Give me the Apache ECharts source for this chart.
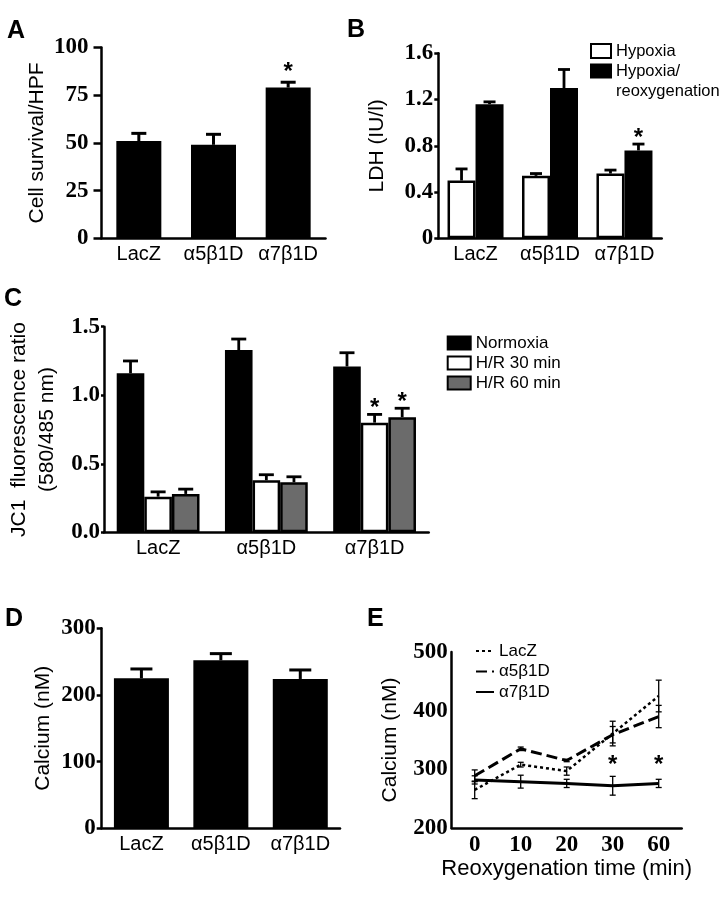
<!DOCTYPE html>
<html><head><meta charset="utf-8">
<script src="https://cdn.jsdelivr.net/npm/echarts/dist/echarts.min.js"></script>
<style>html,body{margin:0;padding:0;background:#fff;}#c{width:727px;height:910px;}</style>
</head><body><div id="c"></div>
<script>
// ---------- data ----------
const cats = ['LacZ', 'α5β1D', 'α7β1D'];
// A: cell survival
const yTicksA = [0, 25, 50, 75, 100];
const survival = [51, 49, 79];
const survivalErr = [4, 5.5, 2.8];
const survivalSig = [0, 0, 1];
// B: LDH
const yTicksB = [0, 0.4, 0.8, 1.2, 1.6];
const ldhHypoxia = [0.50, 0.54, 0.56];
const ldhHypoxiaErr = [0.10, 0.02, 0.03];
const ldhReox = [1.16, 1.30, 0.76];
const ldhReoxErr = [0.02, 0.16, 0.055];
const ldhReoxSig = [0, 0, 1];
// C: JC1 ratio
const yTicksC = [0, 0.5, 1.0, 1.5];
const jcNormoxia = [1.16, 1.33, 1.21];
const jcNormoxiaErr = [0.09, 0.08, 0.10];
const jcHR30 = [0.26, 0.38, 0.80];
const jcHR30Err = [0.035, 0.04, 0.06];
const jcHR30Sig = [0, 0, 1];
const jcHR60 = [0.28, 0.365, 0.84];
const jcHR60Err = [0.035, 0.04, 0.065];
const jcHR60Sig = [0, 0, 1];
// D: calcium
const yTicksD = [0, 100, 200, 300];
const calciumD = [225, 252, 224];
const calciumDErr = [14, 10, 13.5];
// E: calcium over time
const yTicksE = [200, 300, 400, 500];
const timesE = ['0', '10', '20', '30', '60'];
const caLacZ = [265, 308, 297, 361, 425];
const caLacZErr = [15, 4, 7, 21, 27];
const caA5 = [289, 335, 315, 359, 390];
const caA5Err = [10, 3, 2, 14, 19];
const caA7 = [282, 279, 276, 272, 276];
const caA7Err = [7, 11, 7, 16, 7];
const sigE = [0, 0, 0, 1, 1];
const starLevelE = 307;

// ---------- styling helpers ----------
const SANS = '"Liberation Sans", Arial, sans-serif';
const SERIF = '"Liberation Serif", "Times New Roman", serif';

function xCat(grid, data, extra) {
  return Object.assign({
    gridIndex: grid, type: 'category', data: data,
    axisLine: {lineStyle: {color: '#000', width: 2.5}},
    axisTick: {show: false},
    axisLabel: {color: '#000', fontFamily: SANS, fontSize: 20, margin: 6, interval: 0},
    splitLine: {show: false}
  }, extra || {});
}
function yVal(grid, ticks, name, nameGap, tickLen, margin, fmt, extra) {
  return Object.assign({
    gridIndex: grid, type: 'value',
    min: ticks[0], max: ticks[ticks.length - 1], interval: ticks[1] - ticks[0],
    axisLine: {show: true, lineStyle: {color: '#000', width: 2.5}},
    axisTick: {show: tickLen > 0, length: tickLen, lineStyle: {color: '#000', width: 2.5}},
    axisLabel: {color: '#000', fontFamily: SERIF, fontWeight: 'bold', fontSize: 23, margin: margin, formatter: fmt},
    splitLine: {show: false},
    name: name, nameLocation: 'middle', nameGap: nameGap,
    nameTextStyle: {color: '#000', fontFamily: SANS, fontSize: 21}
  }, extra || {});
}

function errSeries(grid, means, errs, sig, k, n, barW, capW, lw, starDy) {
  return {
    type: 'custom', xAxisIndex: grid, yAxisIndex: grid, z: 5, silent: true, clip: false,
    data: means.map((m, i) => [i, m, errs[i], sig ? sig[i] : 0]),
    renderItem: function (params, api) {
      const c = api.value(0), m = api.value(1), e = api.value(2), s = api.value(3);
      const base = api.coord([c, m]);
      const top = api.coord([c, m + e]);
      const x = base[0] + (k - (n - 1) / 2) * barW;
      const st = {stroke: '#000', lineWidth: lw};
      const ch = [
        {type: 'line', shape: {x1: x, y1: base[1], x2: x, y2: top[1]}, style: st},
        {type: 'line', shape: {x1: x - capW / 2, y1: top[1], x2: x + capW / 2, y2: top[1]}, style: st}
      ];
      if (s) ch.push({type: 'text', style: {text: '*', x: x, y: top[1] - starDy, align: 'center', verticalAlign: 'middle', font: 'bold 24px ' + SANS, fill: '#000'}});
      return {type: 'group', children: ch};
    }
  };
}
function errSeriesE(grid, means, errs, capW) {
  return {
    type: 'custom', xAxisIndex: grid, yAxisIndex: grid, z: 5, silent: true, clip: false,
    data: means.map((m, i) => [i, m, errs[i]]),
    renderItem: function (params, api) {
      const c = api.value(0), m = api.value(1), e = api.value(2);
      const lo = api.coord([c, m - e]), hi = api.coord([c, m + e]);
      const x = lo[0];
      const st = {stroke: '#000', lineWidth: 1.3};
      return {type: 'group', children: [
        {type: 'line', shape: {x1: x, y1: lo[1], x2: x, y2: hi[1]}, style: st},
        {type: 'line', shape: {x1: x - capW / 2, y1: lo[1], x2: x + capW / 2, y2: lo[1]}, style: st},
        {type: 'line', shape: {x1: x - capW / 2, y1: hi[1], x2: x + capW / 2, y2: hi[1]}, style: st}
      ]};
    }
  };
}
function starSeriesE(grid, sig, level) {
  return {
    type: 'custom', xAxisIndex: grid, yAxisIndex: grid, z: 6, silent: true, clip: false,
    data: sig.map((s, i) => [i, level, s]),
    renderItem: function (params, api) {
      if (!api.value(2)) return null;
      const p = api.coord([api.value(0), api.value(1)]);
      return {type: 'text', style: {text: '*', x: p[0], y: p[1], align: 'center', verticalAlign: 'middle', font: 'bold 24px ' + SANS, fill: '#000'}};
    }
  };
}

const f1 = v => v.toFixed(1);
const fB = v => v === 0 ? '0' : v.toFixed(1);

const chart = echarts.init(document.getElementById('c'), null, {renderer: 'canvas'});
const letter = (t, x, y) => ({type: 'text', x: x, y: y, style: {text: t, font: 'bold 25px ' + SANS, fill: '#000', verticalAlign: 'middle'}});

chart.setOption({
  animation: false,
  backgroundColor: '#fff',
  grid: [
    {left: 101.5, top: 47.5, width: 224, height: 190.8, outerBoundsMode: 'none', containLabel: false},
    {left: 438.3, top: 53.3, width: 223.4, height: 185, outerBoundsMode: 'none', containLabel: false},
    {left: 104, top: 326.7, width: 324.7, height: 205.6, outerBoundsMode: 'none', containLabel: false},
    {left: 101.7, top: 628.3, width: 238.3, height: 200, outerBoundsMode: 'none', containLabel: false},
    {left: 451.7, top: 652, width: 230, height: 176, outerBoundsMode: 'none', containLabel: false}
  ],
  xAxis: [
    xCat(0, cats), xCat(1, cats), xCat(2, cats), xCat(3, cats),
    xCat(4, timesE, {
      axisLabel: {color: '#000', fontFamily: SERIF, fontWeight: 'bold', fontSize: 23, margin: 6, interval: 0},
      name: 'Reoxygenation time (min)', nameLocation: 'middle', nameGap: 28,
      nameTextStyle: {color: '#000', fontFamily: SANS, fontSize: 22}
    })
  ],
  yAxis: [
    yVal(0, yTicksA, 'Cell survival/HPF', 54, 8, 13),
    yVal(1, yTicksB, 'LDH (IU/l)', 51, 4, 5, fB),
    yVal(2, yTicksC, 'JC1  fluorescence ratio\n(580/485 nm)', 43, 3, 4, f1, {nameTextStyle: {color: '#000', fontFamily: SANS, fontSize: 21, lineHeight: 28}}),
    yVal(3, yTicksD, 'Calcium (nM)', 48, 5, 6),
    yVal(4, yTicksE, 'Calcium (nM)', 51, 0, 4)
  ],
  legend: [
    {data: ['Hypoxia'], left: 590, top: 41, padding: 0, itemWidth: 20, itemHeight: 14, icon: 'rect', selectedMode: false,
     textStyle: {color: '#000', fontFamily: SANS, fontSize: 16.5, lineHeight: 20}},
    {data: ['Hypoxia/\nreoxygenation'], left: 590, top: 41, padding: 0, itemWidth: 20, itemHeight: 13, icon: 'rect', selectedMode: false,
     formatter: name => '\u00a0\n' + name,
     textStyle: {color: '#000', fontFamily: SANS, fontSize: 16.5, lineHeight: 20}},
    {data: ['Normoxia', 'H/R 30 min', 'H/R 60 min'], orient: 'vertical', left: 446.7, top: 334.5, padding: 0, itemWidth: 23, itemHeight: 13, itemGap: 3, icon: 'rect', selectedMode: false,
     textStyle: {color: '#000', fontFamily: SANS, fontSize: 17, lineHeight: 17}},
    {data: ['LacZ', 'α5β1D', 'α7β1D'], orient: 'vertical', left: 475, top: 641, padding: 0, itemWidth: 18, itemHeight: 14, itemGap: 0.5, selectedMode: false,
     itemStyle: {opacity: 0},
     textStyle: {color: '#000', fontFamily: SANS, fontSize: 17, lineHeight: 20}}
  ],
  graphic: [letter('A', 7, 31), letter('B', 347, 30), letter('C', 4, 299), letter('D', 5, 619), letter('E', 367, 619)],
  series: [
    // A
    {type: 'bar', name: 'Cell survival', xAxisIndex: 0, yAxisIndex: 0, data: survival, barWidth: 45, itemStyle: {color: '#000'}},
    errSeries(0, survival, survivalErr, survivalSig, 0, 1, 45, 15, 3, 10),
    // B
    {type: 'bar', name: 'Hypoxia', xAxisIndex: 1, yAxisIndex: 1, data: ldhHypoxia, barWidth: 28, barGap: '0%',
     itemStyle: {color: '#fff', borderColor: '#000', borderWidth: 2.5}},
    {type: 'bar', name: 'Hypoxia/\nreoxygenation', xAxisIndex: 1, yAxisIndex: 1, data: ldhReox, barWidth: 28, barGap: '0%',
     itemStyle: {color: '#000', borderColor: '#000', borderWidth: 2.5}},
    errSeries(1, ldhHypoxia, ldhHypoxiaErr, null, 0, 2, 28, 12, 2.8, 6),
    errSeries(1, ldhReox, ldhReoxErr, ldhReoxSig, 1, 2, 28, 12, 2.8, 6),
    // C
    {type: 'bar', name: 'Normoxia', xAxisIndex: 2, yAxisIndex: 2, data: jcNormoxia, barWidth: 27.6, barGap: '0%',
     itemStyle: {color: '#000', borderColor: '#000', borderWidth: 2.5}},
    {type: 'bar', name: 'H/R 30 min', xAxisIndex: 2, yAxisIndex: 2, data: jcHR30, barWidth: 27.6, barGap: '0%',
     itemStyle: {color: '#fff', borderColor: '#000', borderWidth: 2.5}},
    {type: 'bar', name: 'H/R 60 min', xAxisIndex: 2, yAxisIndex: 2, data: jcHR60, barWidth: 27.6, barGap: '0%',
     itemStyle: {color: '#6b6b6b', borderColor: '#000', borderWidth: 2.5}},
    errSeries(2, jcNormoxia, jcNormoxiaErr, null, 0, 3, 27.6, 15, 2.8, 6),
    errSeries(2, jcHR30, jcHR30Err, jcHR30Sig, 1, 3, 27.6, 15, 2.8, 6),
    errSeries(2, jcHR60, jcHR60Err, jcHR60Sig, 2, 3, 27.6, 15, 2.8, 6),
    // D
    {type: 'bar', name: 'Calcium', xAxisIndex: 3, yAxisIndex: 3, data: calciumD, barWidth: 55, itemStyle: {color: '#000'}},
    errSeries(3, calciumD, calciumDErr, null, 0, 1, 55, 22, 3, 6),
    // E
    {type: 'line', name: 'LacZ', xAxisIndex: 4, yAxisIndex: 4, data: caLacZ, symbol: 'none',
     lineStyle: {color: '#000', width: 2.5, type: [3, 3]}, itemStyle: {color: '#000'}},
    {type: 'line', name: 'α5β1D', xAxisIndex: 4, yAxisIndex: 4, data: caA5, symbol: 'none',
     lineStyle: {color: '#000', width: 3, type: [11, 5]}, itemStyle: {color: '#000'}},
    {type: 'line', name: 'α7β1D', xAxisIndex: 4, yAxisIndex: 4, data: caA7, symbol: 'none',
     lineStyle: {color: '#000', width: 3, type: 'solid'}, itemStyle: {color: '#000'}},
    errSeriesE(4, caLacZ, caLacZErr, 6),
    errSeriesE(4, caA5, caA5Err, 6),
    errSeriesE(4, caA7, caA7Err, 6),
    starSeriesE(4, sigE, starLevelE)
  ]
});
</script>
</body></html>
